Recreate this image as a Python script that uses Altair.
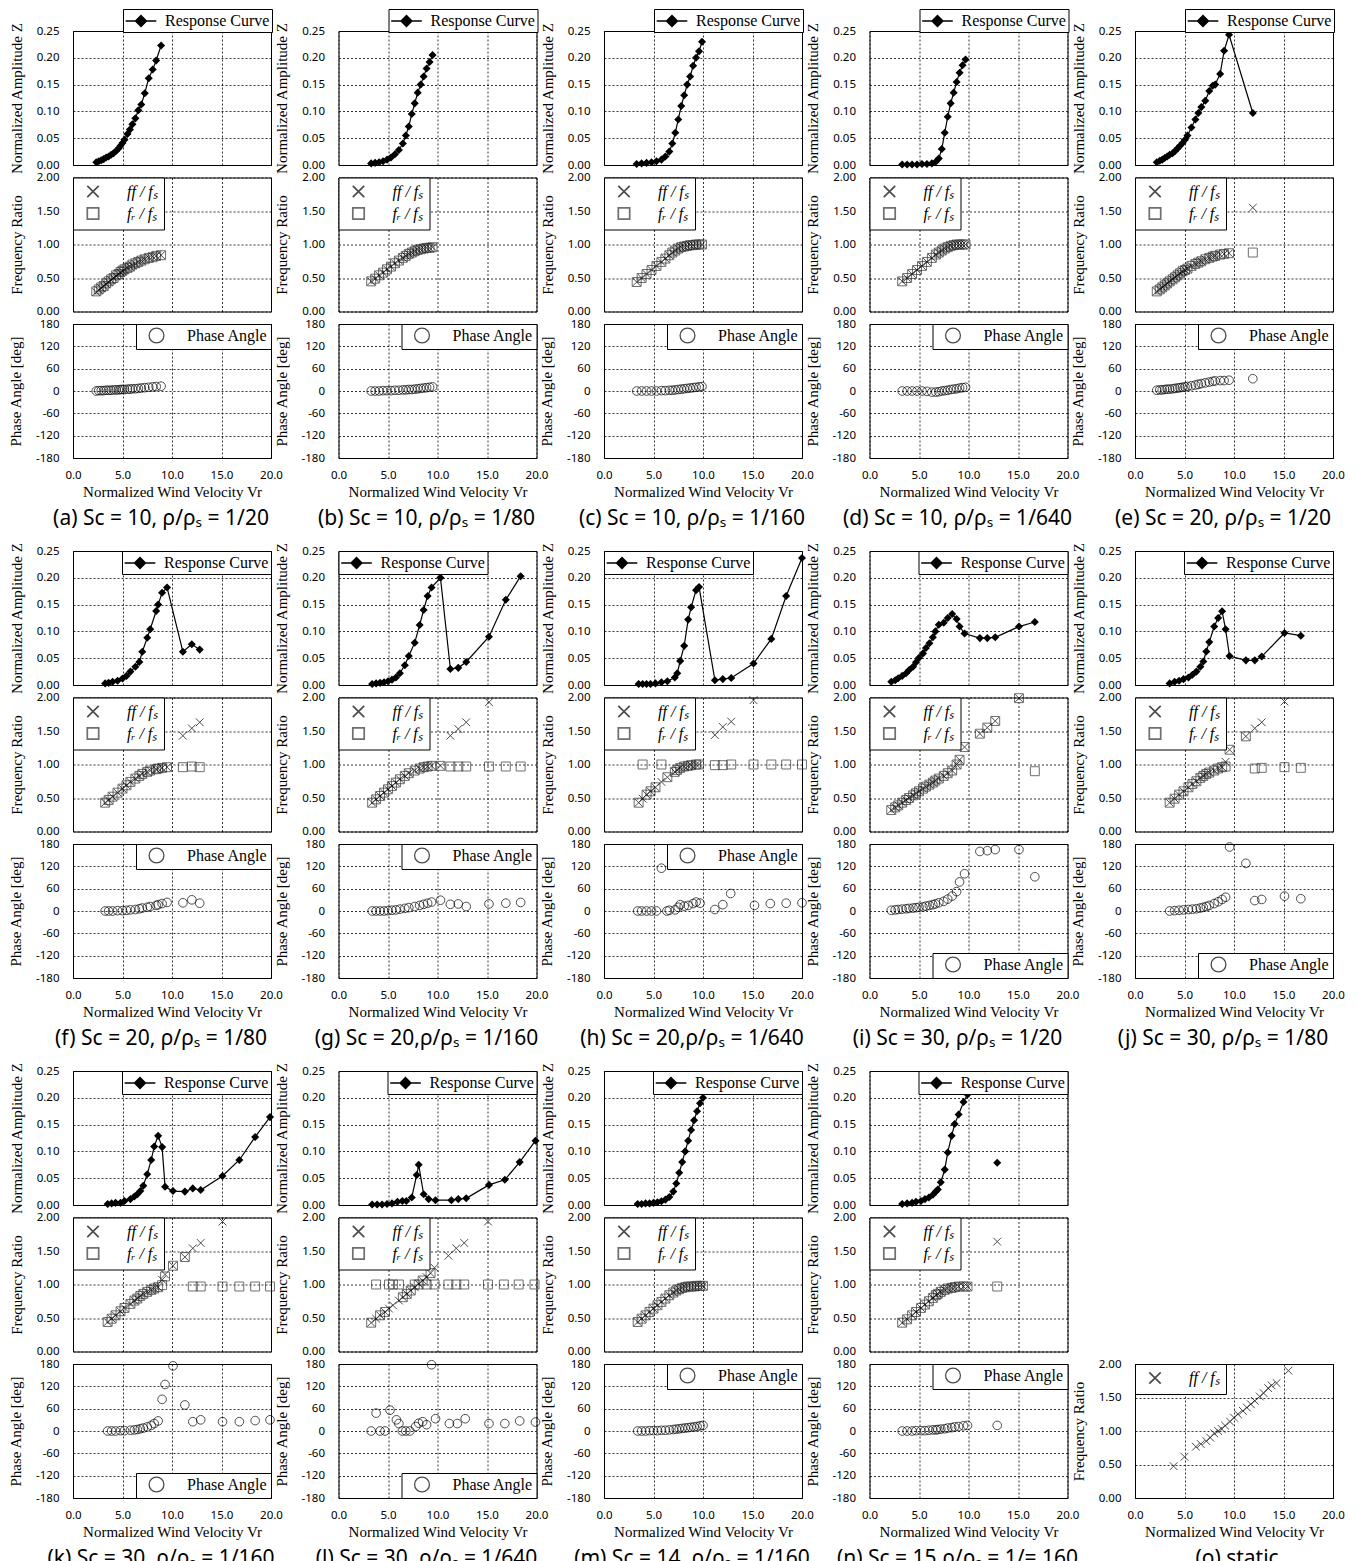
import altair as alt
import pandas as pd

# ---------------- data ----------------
A_VR = [2.35, 2.6, 2.85, 3.1, 3.35, 3.6, 3.85, 4.1, 4.35, 4.6, 4.8, 5.0, 5.2, 5.5, 5.75, 6.0, 6.3, 6.6, 6.9, 7.25, 7.65, 8.05, 8.4, 8.9]
A_AMP = [0.005, 0.007, 0.009, 0.011, 0.014, 0.016, 0.019, 0.022, 0.026, 0.031, 0.036, 0.041, 0.047, 0.058, 0.066, 0.076, 0.087, 0.102, 0.113, 0.134, 0.162, 0.178, 0.195, 0.223]
A_FF = [0.29, 0.32, 0.35, 0.38, 0.41, 0.44, 0.47, 0.50, 0.53, 0.56, 0.58, 0.60, 0.62, 0.65, 0.67, 0.69, 0.71, 0.74, 0.76, 0.78, 0.80, 0.82, 0.83, 0.84]
A_FR = [0.30, 0.33, 0.36, 0.38, 0.42, 0.45, 0.48, 0.50, 0.54, 0.56, 0.59, 0.61, 0.63, 0.65, 0.67, 0.70, 0.72, 0.74, 0.76, 0.78, 0.80, 0.81, 0.83, 0.84]
A_PH = [0, 1, 1, 1, 2, 2, 2, 3, 3, 3, 4, 4, 4, 5, 5, 6, 6, 7, 8, 9, 10, 11, 12, 13]

B_VR = [3.3, 3.7, 4.1, 4.5, 4.9, 5.3, 5.7, 6.1, 6.5, 6.8, 7.1, 7.4, 7.7, 8.0, 8.3, 8.6, 8.9, 9.2, 9.5]
B_AMP = [0.003, 0.004, 0.005, 0.007, 0.010, 0.014, 0.020, 0.028, 0.040, 0.055, 0.072, 0.095, 0.115, 0.135, 0.150, 0.165, 0.180, 0.192, 0.205]
B_FF = [0.45, 0.49, 0.54, 0.58, 0.63, 0.67, 0.72, 0.76, 0.80, 0.83, 0.86, 0.88, 0.90, 0.92, 0.93, 0.94, 0.95, 0.95, 0.96]
B_FR = [0.45, 0.49, 0.54, 0.58, 0.63, 0.67, 0.72, 0.76, 0.80, 0.83, 0.86, 0.88, 0.90, 0.92, 0.93, 0.94, 0.95, 0.95, 0.96]
B_PH = [0, 0, 0, 1, 1, 1, 2, 2, 3, 3, 4, 4, 5, 6, 7, 8, 9, 10, 11]

C_VR = [3.3, 3.8, 4.3, 4.8, 5.3, 5.8, 6.2, 6.6, 6.9, 7.2, 7.5, 7.8, 8.1, 8.4, 8.7, 9.0, 9.3, 9.6, 9.9]
C_AMP = [0.002, 0.003, 0.004, 0.005, 0.007, 0.010, 0.016, 0.025, 0.040, 0.060, 0.085, 0.110, 0.130, 0.150, 0.165, 0.185, 0.200, 0.212, 0.230]
C_FF = [0.44, 0.50, 0.56, 0.62, 0.68, 0.74, 0.79, 0.84, 0.88, 0.91, 0.94, 0.96, 0.97, 0.98, 0.99, 0.99, 1.00, 1.00, 1.00]
C_FR = [0.44, 0.50, 0.56, 0.62, 0.68, 0.74, 0.79, 0.84, 0.88, 0.91, 0.94, 0.96, 0.97, 0.98, 0.99, 0.99, 1.00, 1.00, 1.00]
C_PH = [0, 0, 0, 0, 0, 1, 1, 2, 2, 3, 4, 5, 6, 7, 8, 9, 10, 11, 12]

D_VR = [3.3, 3.8, 4.3, 4.8, 5.3, 5.8, 6.3, 6.7, 7.0, 7.3, 7.6, 7.9, 8.2, 8.5, 8.8, 9.1, 9.4, 9.7]
D_AMP = [0.001, 0.001, 0.001, 0.001, 0.002, 0.002, 0.003, 0.006, 0.012, 0.030, 0.060, 0.090, 0.115, 0.135, 0.155, 0.172, 0.186, 0.197]
D_FF = [0.45, 0.50, 0.56, 0.62, 0.68, 0.74, 0.80, 0.85, 0.88, 0.91, 0.94, 0.96, 0.98, 0.99, 1.00, 1.00, 1.00, 1.00]
D_FR = [0.45, 0.50, 0.56, 0.62, 0.68, 0.74, 0.80, 0.85, 0.88, 0.91, 0.94, 0.96, 0.98, 0.99, 1.00, 1.00, 1.00, 1.00]
D_PH = [0, 0, 0, 0, 0, -1, -3, -3, -2, 0, 1, 2, 4, 5, 6, 8, 9, 10]

E_VR = [2.2, 2.5, 2.75, 3.0, 3.25, 3.5, 3.8, 4.05, 4.3, 4.55, 4.8, 5.05, 5.3, 5.7, 6.1, 6.4, 6.7, 7.1, 7.5, 7.85, 8.1, 8.6, 9.0, 9.5, 11.9]
E_AMP = [0.005, 0.008, 0.010, 0.013, 0.016, 0.019, 0.022, 0.026, 0.031, 0.036, 0.041, 0.047, 0.055, 0.070, 0.085, 0.097, 0.108, 0.120, 0.138, 0.148, 0.150, 0.170, 0.213, 0.243, 0.097]
E_FF = [0.30, 0.33, 0.36, 0.39, 0.42, 0.45, 0.48, 0.51, 0.54, 0.57, 0.60, 0.62, 0.64, 0.68, 0.71, 0.73, 0.75, 0.78, 0.80, 0.82, 0.83, 0.85, 0.86, 0.87, 1.55]
E_FR = [0.30, 0.33, 0.36, 0.39, 0.42, 0.45, 0.48, 0.51, 0.54, 0.57, 0.60, 0.62, 0.64, 0.68, 0.71, 0.73, 0.75, 0.78, 0.80, 0.82, 0.83, 0.85, 0.86, 0.87, 0.88]
E_PH = [2, 3, 3, 4, 5, 5, 6, 7, 8, 9, 10, 11, 12, 14, 16, 18, 20, 22, 24, 26, 27, 28, 28, 29, 33]

F_VR = [3.25, 3.6, 4.0, 4.5, 5.0, 5.4, 5.8, 6.3, 6.7, 7.0, 7.5, 7.8, 8.4, 8.6, 9.0, 9.5, 11.1, 12.0, 12.8]
F_AMP = [0.003, 0.004, 0.006, 0.008, 0.012, 0.017, 0.025, 0.034, 0.043, 0.062, 0.088, 0.104, 0.138, 0.150, 0.172, 0.182, 0.062, 0.076, 0.066]
F_FF = [0.43, 0.47, 0.52, 0.58, 0.64, 0.69, 0.74, 0.79, 0.83, 0.86, 0.89, 0.91, 0.93, 0.94, 0.95, 0.96, 1.43, 1.54, 1.63]
F_FR = [0.43, 0.47, 0.52, 0.58, 0.64, 0.69, 0.74, 0.79, 0.83, 0.86, 0.89, 0.91, 0.93, 0.94, 0.95, 0.96, 0.96, 0.97, 0.96]
F_PH = [0, 0, 0, 1, 1, 2, 3, 4, 6, 8, 10, 12, 15, 17, 20, 23, 22, 30, 21]

G_VR = [3.4, 3.8, 4.2, 4.6, 5.0, 5.4, 5.8, 6.2, 6.7, 7.1, 7.7, 8.2, 8.6, 9.0, 9.4, 10.3, 11.3, 12.1, 12.9, 15.2, 16.9, 18.4]
G_AMP = [0.002, 0.003, 0.004, 0.005, 0.007, 0.010, 0.014, 0.022, 0.037, 0.054, 0.079, 0.112, 0.140, 0.166, 0.182, 0.200, 0.030, 0.032, 0.043, 0.090, 0.159, 0.203]
G_FF = [0.43, 0.48, 0.53, 0.58, 0.63, 0.68, 0.73, 0.78, 0.83, 0.87, 0.91, 0.94, 0.96, 0.97, 0.98, 0.98, 1.43, 1.53, 1.63, 1.93, None, None]
G_FR = [0.43, 0.48, 0.53, 0.58, 0.63, 0.68, 0.73, 0.78, 0.83, 0.87, 0.91, 0.94, 0.96, 0.97, 0.98, 0.98, 0.97, 0.97, 0.97, 0.97, 0.97, 0.97]
G_PH = [0, 0, 0, 0, 1, 2, 3, 5, 7, 9, 12, 15, 18, 21, 24, 29, 18, 19, 12, 19, 21, 23]

H_VR = [3.5, 3.9, 4.3, 4.7, 5.2, 5.8, 6.4, 7.15, 7.4, 7.7, 8.1, 8.5, 8.8, 9.3, 9.6, 11.2, 12.0, 12.85, 15.1, 16.9, 18.4, 20.0]
H_AMP = [0.002, 0.002, 0.002, 0.002, 0.003, 0.005, 0.007, 0.014, 0.022, 0.045, 0.073, 0.122, 0.145, 0.177, 0.183, 0.009, 0.011, 0.013, 0.040, 0.086, 0.166, 0.237]
H_FF = [0.43, 0.49, 0.55, 0.60, 0.66, 0.74, 0.81, 0.89, 0.92, 0.95, 0.97, 0.98, 0.99, 1.00, 1.00, 1.44, 1.56, 1.64, 1.96, None, None, None]
H_FR = [0.43, 1.00, 0.55, 0.60, 0.66, 1.00, 0.81, 0.89, 0.92, 0.95, 0.97, 0.98, 0.99, 1.00, 1.00, 0.99, 0.99, 1.00, 1.00, 1.00, 1.00, 1.00]
H_PVR = [3.4, 3.8, 4.3, 4.8, 5.3, 5.8, 6.35, 6.6, 7.2, 7.5, 7.7, 8.1, 8.5, 9.0, 9.3, 9.7, 11.2, 12.0, 12.8, 15.2, 16.8, 18.4, 20.0]
H_PH = [0, 0, 0, 0, 0, 115, 0, 2, 3, 10, 17, 13, 15, 20, 24, 21, 4, 17, 47, 15, 20, 21, 22]

I_VR = [2.2, 2.6, 2.9, 3.3, 3.7, 4.0, 4.4, 4.7, 5.0, 5.4, 5.7, 6.05, 6.4, 6.65, 7.0, 7.5, 7.9, 8.35, 8.8, 9.1, 9.6, 11.15, 11.9, 12.7, 15.1, 16.7]
I_AMP = [0.006, 0.009, 0.0125, 0.017, 0.022, 0.028, 0.034, 0.0425, 0.051, 0.059, 0.069, 0.078, 0.089, 0.100, 0.1125, 0.116, 0.125, 0.1325, 0.123, 0.109, 0.096, 0.0875, 0.0875, 0.089, 0.109, 0.1175]
I_FF = [0.32, 0.36, 0.39, 0.43, 0.47, 0.50, 0.54, 0.57, 0.60, 0.64, 0.67, 0.70, 0.73, 0.76, 0.79, 0.83, 0.87, 0.91, 1.00, 1.07, 1.26, 1.46, 1.55, 1.65, 1.99, None]
I_FR = [0.32, 0.36, 0.39, 0.43, 0.47, 0.50, 0.54, 0.57, 0.60, 0.64, 0.67, 0.70, 0.73, 0.76, 0.79, 0.83, 0.87, 0.91, 1.00, 1.07, 1.26, 1.46, 1.55, 1.65, 1.99, 0.90]
I_PH = [2, 3, 4, 5, 6, 7, 8, 9, 10, 11, 13, 15, 17, 19, 22, 26, 32, 40, 52, 78, 100, 160, 162, 165, 165, 92]

J_VR = [3.5, 4.0, 4.45, 4.9, 5.4, 5.8, 6.2, 6.6, 6.9, 7.2, 7.5, 8.0, 8.4, 8.8, 9.15, 9.55, 11.2, 12.1, 12.8, 15.1, 16.75]
J_AMP = [0.003, 0.006, 0.008, 0.011, 0.014, 0.019, 0.025, 0.034, 0.044, 0.0625, 0.080, 0.109, 0.125, 0.1375, 0.104, 0.054, 0.046, 0.046, 0.053, 0.097, 0.092]
J_FF = [0.43, 0.49, 0.55, 0.60, 0.66, 0.71, 0.75, 0.80, 0.83, 0.86, 0.88, 0.91, 0.94, 0.96, 1.04, 1.22, 1.42, 1.54, 1.63, 1.94, None]
J_FR = [0.43, 0.49, 0.55, 0.60, 0.66, 0.71, 0.75, 0.80, 0.83, 0.86, 0.88, 0.91, 0.94, 0.96, 0.97, 1.22, 1.42, 0.94, 0.95, 0.96, 0.95]
J_PH = [0, 1, 2, 3, 4, 5, 6, 8, 10, 12, 15, 20, 25, 31, 37, 172, 128, 28, 31, 40, 33]

K_VR = [3.5, 3.9, 4.3, 4.8, 5.2, 5.8, 6.2, 6.5, 6.8, 7.1, 7.5, 7.9, 8.2, 8.6, 9.0, 9.3, 10.1, 11.3, 12.1, 12.9, 15.1, 16.8, 18.4, 19.9]
K_AMP = [0.002, 0.003, 0.004, 0.004, 0.0075, 0.011, 0.016, 0.020, 0.026, 0.036, 0.0575, 0.084, 0.109, 0.129, 0.108, 0.034, 0.026, 0.025, 0.031, 0.028, 0.054, 0.084, 0.127, 0.164]
K_FF = [0.44, 0.49, 0.54, 0.60, 0.65, 0.71, 0.76, 0.79, 0.83, 0.86, 0.89, 0.92, 0.94, 0.96, 1.07, 1.15, 1.28, 1.41, 1.54, 1.62, 1.94, None, None, None]
K_FR = [0.44, 0.49, 0.54, 0.60, 0.65, 0.71, 0.76, 0.79, 0.83, 0.86, 0.89, 0.92, 0.94, 0.96, 0.99, 1.12, 1.28, 1.41, 0.97, 0.97, 0.97, 0.97, 0.97, 0.97]
K_PH = [0, 0, 0, 1, 1, 2, 3, 4, 6, 8, 11, 15, 20, 27, 85, 125, 175, 70, 25, 30, 25, 25, 28, 30]

L_VR = [3.4, 3.9, 4.4, 4.9, 5.4, 5.95, 6.45, 6.85, 7.4, 7.9, 8.1, 8.6, 9.1, 9.8, 11.4, 12.1, 12.9, 15.2, 16.8, 18.3, 19.9]
L_AMP = [0.001, 0.001, 0.001, 0.002, 0.003, 0.006, 0.0075, 0.0075, 0.014, 0.056, 0.075, 0.020, 0.011, 0.009, 0.009, 0.011, 0.0125, 0.0375, 0.047, 0.080, 0.120]
L_FVR = [3.3, 3.8, 4.2, 4.7, 5.1, 5.5, 6.1, 6.5, 6.9, 7.3, 7.7, 8.1, 8.5, 8.9, 9.3, 9.7, 11.1, 11.9, 12.7, 15.1, 16.7, 18.2, 19.8]
L_FF = [0.43, 0.49, 0.54, 0.59, 0.64, 0.69, 0.76, 0.81, 0.86, 0.91, 0.96, 1.01, 1.06, 1.11, 1.17, 1.25, 1.43, 1.54, 1.62, 1.94, None, None, None]
L_FR = [0.43, 1.00, 0.54, 0.59, 1.00, 1.00, 1.00, 0.81, 0.86, 0.91, 1.00, 1.00, 1.06, 1.00, 1.17, 1.00, 1.00, 1.00, 1.00, 1.00, 1.00, 1.00, 1.00]
L_PVR = [3.3, 3.8, 4.2, 4.7, 5.2, 5.85, 6.1, 6.45, 6.8, 7.2, 7.8, 8.1, 8.5, 8.9, 9.4, 9.8, 11.2, 12.0, 12.8, 15.2, 16.8, 18.3, 19.9]
L_PH = [0, 48, 0, 0, 56, 30, 20, 0, 0, 0, 12, 21, 25, 17, 178, 33, 20, 20, 33, 20, 20, 27, 24]

M_VR = [3.4, 3.8, 4.2, 4.6, 5.0, 5.4, 5.8, 6.2, 6.6, 7.0, 7.3, 7.6, 7.9, 8.2, 8.5, 8.8, 9.1, 9.4, 9.7, 10.0]
M_AMP = [0.002, 0.002, 0.003, 0.003, 0.004, 0.005, 0.007, 0.010, 0.015, 0.025, 0.040, 0.060, 0.080, 0.100, 0.120, 0.140, 0.158, 0.175, 0.190, 0.200]
M_FF = [0.44, 0.49, 0.54, 0.59, 0.64, 0.69, 0.74, 0.79, 0.84, 0.88, 0.91, 0.93, 0.95, 0.96, 0.97, 0.97, 0.97, 0.98, 0.98, 0.98]
M_FR = [0.44, 0.49, 0.54, 0.59, 0.64, 0.69, 0.74, 0.79, 0.84, 0.88, 0.91, 0.93, 0.95, 0.96, 0.97, 0.97, 0.97, 0.98, 0.98, 0.98]
M_PH = [0, 0, 0, 1, 1, 1, 2, 2, 3, 4, 5, 6, 7, 8, 9, 10, 11, 12, 14, 15]

N_VR = [3.3, 3.8, 4.3, 4.7, 5.2, 5.6, 6.0, 6.4, 6.7, 6.9, 7.2, 7.6, 7.9, 8.3, 8.6, 9.0, 9.5, 9.9, 12.9]
N_AMP = [0.002, 0.003, 0.004, 0.006, 0.0075, 0.011, 0.014, 0.019, 0.025, 0.029, 0.0425, 0.066, 0.098, 0.129, 0.151, 0.169, 0.192, 0.206, 0.079]
N_FF = [0.43, 0.48, 0.54, 0.59, 0.65, 0.70, 0.75, 0.80, 0.84, 0.86, 0.89, 0.92, 0.94, 0.95, 0.96, 0.97, 0.97, 0.97, 1.64]
N_FR = [0.43, 0.48, 0.54, 0.59, 0.65, 0.70, 0.75, 0.80, 0.84, 0.86, 0.89, 0.92, 0.94, 0.95, 0.96, 0.97, 0.97, 0.97, 0.97]
N_PH = [0, 0, 0, 1, 1, 1, 2, 3, 3, 4, 5, 6, 8, 9, 11, 12, 14, 15, 15]
N_CONNECTED = 18

O_VR = [3.9, 5.0, 6.15, 6.65, 7.2, 7.6, 8.0, 8.4, 8.75, 9.1, 9.6, 10.0, 10.4, 10.9, 11.3, 11.7, 12.1, 12.6, 13.0, 13.45, 13.8, 14.3, 15.5]
O_FF = [0.475, 0.615, 0.765, 0.805, 0.85, 0.90, 0.965, 1.00, 1.03, 1.08, 1.14, 1.20, 1.25, 1.30, 1.35, 1.40, 1.45, 1.515, 1.565, 1.64, 1.68, 1.715, 1.90]

CAPTIONS = [
    "(a) Sc = 10, ρ/ρₛ = 1/20", "(b) Sc = 10, ρ/ρₛ = 1/80", "(c) Sc = 10, ρ/ρₛ = 1/160",
    "(d) Sc = 10, ρ/ρₛ = 1/640", "(e) Sc = 20, ρ/ρₛ = 1/20", "(f) Sc = 20, ρ/ρₛ = 1/80",
    "(g) Sc = 20,ρ/ρₛ = 1/160", "(h) Sc = 20,ρ/ρₛ = 1/640", "(i) Sc = 30, ρ/ρₛ = 1/20",
    "(j) Sc = 30, ρ/ρₛ = 1/80", "(k) Sc = 30, ρ/ρₛ = 1/160", "(l) Sc = 30, ρ/ρₛ = 1/640",
    "(m) Sc = 14, ρ/ρₛ = 1/160", "(n) Sc = 15,ρ/ρₛ = 1/= 160", "(o) static",
]

X_TICKS = [0, 5, 10, 15, 20]
AMP_TICKS = [0, 0.05, 0.10, 0.15, 0.20, 0.25]
FREQ_TICKS = [0, 0.5, 1.0, 1.5, 2.0]
PH_TICKS = [-180, -120, -60, 0, 60, 120, 180]

RC = "Response Curve"
PA = "Phase Angle"
FF_LAB = "ff / fₛ"
FR_LAB = "fᵣ / fₛ"

# ---------------- layout / style ----------------
W, H = 198, 134
GAP = 12.5
ROW_GAP = 93
COL_GAP = 67.5
SERIF = "Liberation Serif"
SANS = "Noto Sans"
AMP_LW, AMP_LH = 148, 22

DIAMOND_LINE = "M-1.7,0L1.7,0M0,-0.62L0.62,0L0,0.62L-0.62,0Z"
XPATH = "M-1,-1L1,1M-1,1L1,-1"

XS = alt.Scale(domain=[0, 20], nice=False, zero=False)

LEG_BOX = dict(title=None, strokeColor="black", fillColor="white", cornerRadius=0,
               labelFont=SERIF, labelFontSize=16, labelColor="black")


def x_axis(show):
    if show:
        return alt.Axis(values=X_TICKS, format=".1f", labelFlush=False,
                        title="Normalized Wind Velocity Vr")
    return alt.Axis(values=X_TICKS, labels=False, title=None)


def amp_chart(vr, amp, leg, nconn=None):
    n = len(vr) if nconn is None else nconn
    df = pd.DataFrame({"Vr": vr, "Z": amp, "s": [RC] * len(vr),
                       "c": [i < n for i in range(len(vr))]})
    x = alt.X("Vr:Q", scale=XS, axis=x_axis(False))
    y = alt.Y("Z:Q", scale=alt.Scale(domain=[0, 0.25], nice=False),
              axis=alt.Axis(values=AMP_TICKS, format=".2f", title="Normalized Amplitude Z"))
    lk = dict(LEG_BOX, symbolType=DIAMOND_LINE, symbolSize=324, symbolFillColor="black",
              symbolStrokeColor="black", symbolStrokeWidth=1.3, symbolOffset=6,
              labelOffset=14, padding=2)
    if leg == "above":
        lk.update(orient="none", legendX=W - AMP_LW, legendY=-AMP_LH)
    else:
        lk.update(orient=leg, offset=0)
    base = alt.Chart(df)
    line = base.transform_filter("datum.c").mark_line(color="black", strokeWidth=1.2).encode(x=x, y=y)
    pts = base.mark_point(shape="diamond", filled=True, size=65, opacity=1).encode(
        x=x, y=y,
        color=alt.Color("s:N", scale=alt.Scale(domain=[RC], range=["black"]), legend=alt.Legend(**lk)))
    return alt.layer(line, pts).properties(width=W, height=H)


def freq_chart(vr, ff, fr=None, caption=None, dx=0):
    rows = []
    for i, v in enumerate(vr):
        if ff[i] is not None:
            rows.append({"Vr": v, "R": ff[i], "s": FF_LAB})
        if fr is not None and fr[i] is not None:
            rows.append({"Vr": v, "R": fr[i], "s": FR_LAB})
    df = pd.DataFrame(rows)
    dom = [FF_LAB, FR_LAB] if fr is not None else [FF_LAB]
    shp = [XPATH, "square"][:len(dom)]
    col = ["black", "#333333"][:len(dom)]
    lk = dict(LEG_BOX, orient="top-left", offset=0, symbolSize=130, symbolStrokeWidth=1.7,
              symbolOffset=6, labelOffset=26, padding=6, rowPadding=2, labelFontStyle="italic")
    leg = alt.Legend(**lk)
    x = alt.X("Vr:Q", scale=XS, axis=x_axis(caption is not None))
    y = alt.Y("R:Q", scale=alt.Scale(domain=[0, 2], nice=False),
              axis=alt.Axis(values=FREQ_TICKS, format=".2f", title="Frequency Ratio"))
    shape = alt.Shape("s:N", scale=alt.Scale(domain=dom, range=shp), legend=leg)
    color = alt.Color("s:N", scale=alt.Scale(domain=dom, range=col), legend=leg)
    base = alt.Chart(df)
    layers = []
    if fr is not None:
        layers.append(base.transform_filter(alt.datum.s == FR_LAB).mark_point(
            filled=False, size=80, strokeWidth=1).encode(x=x, y=y, shape=shape, color=color))
    layers.append(base.transform_filter(alt.datum.s == FF_LAB).mark_point(
        filled=False, size=60, strokeWidth=1).encode(x=x, y=y, shape=shape, color=color))
    ch = alt.layer(*layers).properties(width=W, height=H)
    if caption is not None:
        ch = ch.properties(title=alt.TitleParams(caption, orient="bottom", anchor="middle", frame="group",
                                                 offset=8, dx=dx, font=SANS, fontSize=21,
                                                 fontWeight="normal", color="black"))
    return ch


def phase_chart(vr, ph, leg, caption, dx):
    df = pd.DataFrame({"Vr": vr, "P": ph, "s": [PA] * len(vr)})
    lk = dict(LEG_BOX, orient=leg, offset=0, symbolType="circle", symbolSize=220,
              symbolStrokeWidth=1.3, symbolStrokeColor="black", symbolFillColor="transparent",
              symbolOffset=9, labelOffset=22, padding=3)
    x = alt.X("Vr:Q", scale=XS, axis=x_axis(True))
    y = alt.Y("P:Q", scale=alt.Scale(domain=[-180, 180], nice=False),
              axis=alt.Axis(values=PH_TICKS, labelExpr="'' + datum.value", title="Phase Angle [deg]"))
    pts = alt.Chart(df).mark_point(shape="circle", filled=False, size=75, strokeWidth=1).encode(
        x=x, y=y,
        color=alt.Color("s:N", scale=alt.Scale(domain=[PA], range=["black"]), legend=alt.Legend(**lk)))
    return pts.properties(width=W, height=H, title=alt.TitleParams(
        caption, orient="bottom", anchor="middle", frame="group", offset=8, dx=dx,
        font=SANS, fontSize=21, fontWeight="normal", color="black"))


def blank(h):
    return alt.Chart(pd.DataFrame({"a": [0]})).mark_point(opacity=0).encode(
        x=alt.X("a:Q", axis=None), y=alt.Y("a:Q", axis=None)
    ).properties(width=W, height=h, view=alt.ViewBackground(stroke="transparent"))


PANELS = [
    dict(vr=A_VR, amp=A_AMP, fvr=A_VR, ff=A_FF, fr=A_FR, pvr=A_VR, ph=A_PH, al="above", pl="top-right"),
    dict(vr=B_VR, amp=B_AMP, fvr=B_VR, ff=B_FF, fr=B_FR, pvr=B_VR, ph=B_PH, al="above", pl="top-right"),
    dict(vr=C_VR, amp=C_AMP, fvr=C_VR, ff=C_FF, fr=C_FR, pvr=C_VR, ph=C_PH, al="above", pl="top-right"),
    dict(vr=D_VR, amp=D_AMP, fvr=D_VR, ff=D_FF, fr=D_FR, pvr=D_VR, ph=D_PH, al="above", pl="top-right"),
    dict(vr=E_VR, amp=E_AMP, fvr=E_VR, ff=E_FF, fr=E_FR, pvr=E_VR, ph=E_PH, al="above", pl="top-right"),
    dict(vr=F_VR, amp=F_AMP, fvr=F_VR, ff=F_FF, fr=F_FR, pvr=F_VR, ph=F_PH, al="top-right", pl="top-right"),
    dict(vr=G_VR, amp=G_AMP, fvr=G_VR, ff=G_FF, fr=G_FR, pvr=G_VR, ph=G_PH, al="top-left", pl="top-right"),
    dict(vr=H_VR, amp=H_AMP, fvr=H_VR, ff=H_FF, fr=H_FR, pvr=H_PVR, ph=H_PH, al="top-left", pl="top-right"),
    dict(vr=I_VR, amp=I_AMP, fvr=I_VR, ff=I_FF, fr=I_FR, pvr=I_VR, ph=I_PH, al="top-right", pl="bottom-right"),
    dict(vr=J_VR, amp=J_AMP, fvr=J_VR, ff=J_FF, fr=J_FR, pvr=J_VR, ph=J_PH, al="top-right", pl="bottom-right"),
    dict(vr=K_VR, amp=K_AMP, fvr=K_VR, ff=K_FF, fr=K_FR, pvr=K_VR, ph=K_PH, al="top-right", pl="bottom-right"),
    dict(vr=L_VR, amp=L_AMP, fvr=L_FVR, ff=L_FF, fr=L_FR, pvr=L_PVR, ph=L_PH, al="top-right", pl="bottom-right"),
    dict(vr=M_VR, amp=M_AMP, fvr=M_VR, ff=M_FF, fr=M_FR, pvr=M_VR, ph=M_PH, al="top-right", pl="top-right"),
    dict(vr=N_VR, amp=N_AMP, fvr=N_VR, ff=N_FF, fr=N_FR, pvr=N_VR, ph=N_PH, al="top-right", pl="top-right",
         nconn=N_CONNECTED),
    None,
]

charts = []
for r in range(3):
    idx = list(range(r * 5, r * 5 + 5))
    for i in idx:
        p = PANELS[i]
        charts.append(blank(H) if p is None else amp_chart(p["vr"], p["amp"], p["al"], p.get("nconn")))
    for i in idx:
        p = PANELS[i]
        charts.append(blank(H) if p is None else freq_chart(p["fvr"], p["ff"], p["fr"]))
    for i in idx:
        p = PANELS[i]
        if p is None:
            charts.append(freq_chart(O_VR, O_FF, None, caption=CAPTIONS[i], dx=3))
        else:
            charts.append(phase_chart(p["pvr"], p["ph"], p["pl"], CAPTIONS[i], -11))
    if r < 2:
        for _ in range(5):
            charts.append(blank(ROW_GAP - 2 * GAP))

chart = alt.concat(*charts, columns=5, spacing={"row": GAP, "column": COL_GAP}, bounds="flush").resolve_scale(
    color="independent", shape="independent"
).resolve_legend(
    color="independent", shape="independent"
).properties(
    padding={"left": 0, "top": 0, "right": 4, "bottom": 0}
).configure_view(
    stroke="black", strokeWidth=1
).configure_axis(
    labelFont=SANS, labelFontSize=11.5, labelColor="black",
    titleFont=SERIF, titleFontSize=15, titleFontWeight="normal", titleColor="black",
    grid=True, gridColor="black", gridDash=[2, 2], gridWidth=0.8,
    domain=False, ticks=False, tickSize=0
).configure_axisX(
    labelPadding=11, titlePadding=4
).configure_axisY(
    labelPadding=14, titlePadding=12
)

chart.save("out.html", embed_options={"renderer": "svg", "actions": False})
